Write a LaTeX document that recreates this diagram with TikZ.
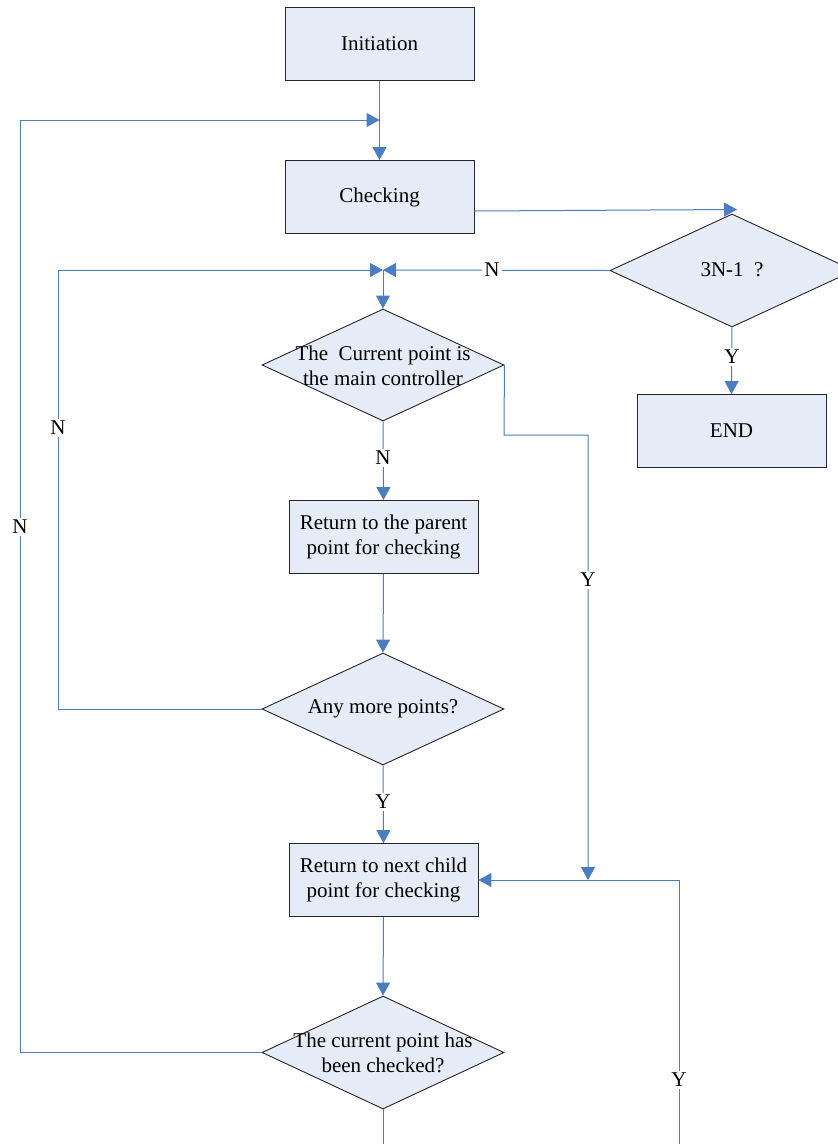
\documentclass[tikz,border=0pt]{standalone}
\usepackage{fontspec}
\setmainfont{Liberation Serif}
\usetikzlibrary{shapes.geometric,arrows.meta}
\definecolor{ln}{RGB}{74,126,193}
\definecolor{fl}{RGB}{230,236,247}
\begin{document}
\begin{tikzpicture}[x=1pt,y=-1pt,
  font=\fontsize{21}{25.5}\selectfont,
  box/.style={draw=black!85, fill=fl, line width=0.9pt, minimum width=189pt, minimum height=73pt, inner sep=0pt, align=center},
  dia/.style={diamond, draw=black!85, fill=fl, line width=0.9pt, inner sep=0pt, minimum width=242pt, minimum height=112pt},
  txt/.style={align=center, inner sep=0pt},
  conn/.style={draw=ln, line width=1pt},
  arr/.style={conn, -{Triangle[length=13pt,width=14pt]}},
  lbl/.style={fill=white, inner sep=2pt}]
\useasboundingbox[fill=white] (0,0) rectangle (838,1144);

% nodes
\node[box] (init) at (379.5,44) {Initiation};
\node[box] (chk) at (379.5,197) {Checking};
\node[dia, minimum width=244pt, minimum height=113pt] (d0) at (732,270.5) {};
\node[txt] (d0t) at (732,270) {3N-1\ \ ?};
\node[box] (end) at (731.5,431) {END};
\node[dia] (d1) at (383,365) {};
\node[txt] (d1t) at (383,366) {The\ \ Current point is\\the main controller};
\node[box] (par) at (383.5,537) {Return to the parent\\point for checking};
\node[dia] (d2) at (383,709) {};
\node[txt] (d2t) at (383,709) {Any more points?};
\node[box] (nxt) at (383.5,880) {Return to next child\\point for checking};
\node[dia, minimum height=113pt] (d3) at (383,1052.5) {};
\node[txt] (d3t) at (383,1053) {The current point has\\been checked?};

% coordinates
\coordinate (j1) at (379.5,120);
\coordinate (j2) at (383,270);
\coordinate (j3) at (588,880);
\coordinate (c0) at (737,209.5);
\coordinate (b1) at (679,1144);
\coordinate (b2) at (383,1144);

% connectors
\draw[arr] (init) -- (chk);
\draw[arr] (d3.west) -- (20,1052.5) -- (20,120) -- (j1);
\draw[arr] ([yshift=-14pt]chk.east) -- (c0);
\draw[arr] (d0.west) -- (j2);
\draw[arr] (d2.west) -- (58,709) -- (58,270) -- (j2);
\draw[arr] (j2) -- (d1.north);
\draw[arr] (d1.south) -- (par.north);
\draw[arr] (d1.east) -- (504,435) -- (588,435) -- (j3);
\draw[arr] (par.south) -- (d2.north);
\draw[arr] (d2.south) -- (nxt.north);
\draw[arr] (b1) -- (679,880) -- (nxt.east);
\draw[arr] (nxt.south) -- (d3.north);
\draw[conn] (d3.south) -- (b2);
\draw[arr] (d0.south) -- (end.north);

% labels
\node[lbl] (l1) at (492,270) {N};
\node[lbl] (l2) at (58,428) {N};
\node[lbl] (l3) at (20,527) {N};
\node[lbl] (l4) at (383,458) {N};
\node[lbl] (l5) at (588,580) {Y};
\node[lbl] (l6) at (383,802) {Y};
\node[lbl] (l7) at (679,1080) {Y};
\node[lbl] (l8) at (732,357) {Y};
\end{tikzpicture}
\end{document}
